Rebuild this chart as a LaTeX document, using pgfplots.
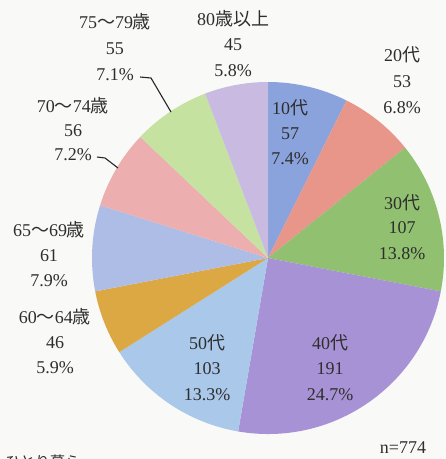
\documentclass[border=0pt]{standalone}
\usepackage{pgfplots}
\pgfplotsset{compat=1.18}
\usepackage{pgfplotstable}
\usepackage{fontspec}
\setmainfont{Liberation Serif}
\newfontfamily\cjk{Noto Sans CJK JP}

\definecolor{bgcol}{HTML}{F9F9F7}
\definecolor{txt}{HTML}{2E2E2E}
\definecolor{c1}{HTML}{8AA3DC}
\definecolor{c2}{HTML}{E8958A}
\definecolor{c3}{HTML}{90C070}
\definecolor{c4}{HTML}{A892D6}
\definecolor{c5}{HTML}{A9C8EA}
\definecolor{c6}{HTML}{DCA843}
\definecolor{c7}{HTML}{AEBDE6}
\definecolor{c8}{HTML}{ECAEAE}
\definecolor{c9}{HTML}{C5E2A0}
\definecolor{c10}{HTML}{C8BAE0}

\pgfplotstableread{
group value col
10s 57 c1
20s 53 c2
30s 107 c3
40s 191 c4
50s 103 c5
60-64 46 c6
65-69 61 c7
70-74 56 c8
75-79 55 c9
80+ 45 c10
}\piedata

\begin{document}
\begin{tikzpicture}
\path[use as bounding box] (0pt,0pt) rectangle (446pt,-459pt);
\fill[bgcol] (0pt,0pt) rectangle (446pt,-459pt);
\begin{axis}[at={(268pt,-258pt)}, anchor=center,
  width=352pt, height=352pt, scale only axis, hide axis,
  xmin=-1, xmax=1, ymin=-1, ymax=1, clip=false]
\addplot[draw=none, forget plot] coordinates {(0,0)};
\pgfplotsextra{
  \pgfplotstablegetrowsof{\piedata}
  \pgfmathtruncatemacro\nrows{\pgfplotsretval-1}
  \def\total{0}
  \pgfplotsforeachungrouped \i in {0,...,\nrows} {
    \pgfplotstablegetelem{\i}{value}\of{\piedata}\let\val\pgfplotsretval
    \pgfmathsetmacro\total{\total+\val}
  }
  \def\cum{0}
  \pgfplotsforeachungrouped \i in {0,...,\nrows} {
    \pgfplotstablegetelem{\i}{value}\of{\piedata}\let\val\pgfplotsretval
    \pgfplotstablegetelem{\i}{col}\of{\piedata}\let\slicecol\pgfplotsretval
    \pgfmathsetmacro\aone{90-360*(\cum/\total)}
    \pgfmathsetmacro\atwo{90-360*((\cum+\val)/\total)}
    \edef\doslice{\noexpand\fill[\slicecol] (axis cs:0,0) -- (axis cs:{cos(\aone)},{sin(\aone)}) arc[start angle=\aone, end angle=\atwo, radius=176pt] -- cycle;}
    \doslice
    \pgfmathsetmacro\cum{\cum+\val}
  }
}
\end{axis}
\begin{scope}[x=1pt, y=-1pt, font=\fontsize{18}{21}\selectfont, text=txt]
  % 80+
  \node[anchor=base] at (233,25) {80{\cjk 歳以上}};
  \node[anchor=base] at (233,50) {45};
  \node[anchor=base] at (233,76) {5.8\%};
  % 75-79
  \node[anchor=base] at (115,28) {75{\cjk 〜}79{\cjk 歳}};
  \node[anchor=base] at (115,54) {55};
  \node[anchor=base] at (115,80) {7.1\%};
  \draw[black!85, line width=1.1pt] (140,77) -- (151,78) -- (171,112);
  % 20s
  \node[anchor=base] at (402,61) {20{\cjk 代}};
  \node[anchor=base] at (402,87) {53};
  \node[anchor=base] at (402,113) {6.8\%};
  % 10s
  \node[anchor=base] at (290,114) {10{\cjk 代}};
  \node[anchor=base] at (290,139) {57};
  \node[anchor=base] at (290,164) {7.4\%};
  % 70-74
  \node[anchor=base] at (73,112) {70{\cjk 〜}74{\cjk 歳}};
  \node[anchor=base] at (73,136) {56};
  \node[anchor=base] at (73,160) {7.2\%};
  \draw[black!85, line width=1.1pt] (97,157) -- (105,158) -- (118,168);
  % 30s
  \node[anchor=base] at (402,209) {30{\cjk 代}};
  \node[anchor=base] at (402,233) {107};
  \node[anchor=base] at (402,259) {13.8\%};
  % 65-69
  \node[anchor=base] at (49,236) {65{\cjk 〜}69{\cjk 歳}};
  \node[anchor=base] at (49,261) {61};
  \node[anchor=base] at (49,286) {7.9\%};
  % 60-64
  \node[anchor=base] at (55,323) {60{\cjk 〜}64{\cjk 歳}};
  \node[anchor=base] at (55,348) {46};
  \node[anchor=base] at (55,373) {5.9\%};
  % 50s
  \node[anchor=base] at (207,349) {50{\cjk 代}};
  \node[anchor=base] at (207,374) {103};
  \node[anchor=base] at (207,400) {13.3\%};
  % 40s
  \node[anchor=base] at (330,349) {40{\cjk 代}};
  \node[anchor=base] at (330,374) {191};
  \node[anchor=base] at (330,400) {24.7\%};
  % n
  \node[anchor=base] at (403,453) {n=774};
  \node[anchor=base west, font=\fontsize{15}{18}\selectfont] at (2,467) {\cjk ひとり暮ら};
\end{scope}
\end{tikzpicture}
\end{document}
